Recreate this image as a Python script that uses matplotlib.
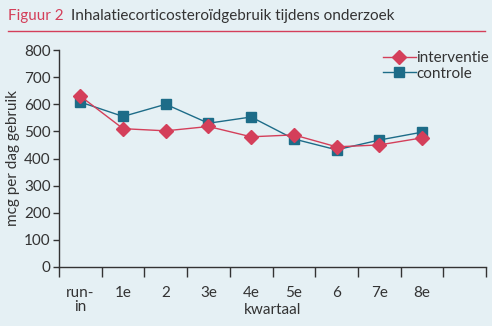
import matplotlib.pyplot as plt
import numpy as np

categories = ["run-\nin", "1e", "2", "3e", "4e", "5e", "6", "7e", "8e"]
interventie = [630, 510, 502, 518, 480, 487, 443, 450, 476]
controle = [608, 555, 600, 530, 553, 472, 432, 468, 497]

BG = "#e5f0f4"
RED = "#d43f5a"
BLUE = "#1d6c88"
TXT = "#333333"

plt.rcParams["font.family"] = ["Lato", "DejaVu Sans"]

fig = plt.figure(figsize=(4.92, 3.26), dpi=100, facecolor=BG)
ax = fig.add_axes([59 / 492, 1 - 267 / 326, (486 - 59) / 492, (267 - 50) / 326])
ax.set_facecolor(BG)

x = np.arange(len(categories)) + 0.5
ax.plot(x, controle, color=BLUE, lw=1, marker="s", ms=7, label="controle", zorder=3)
ax.plot(x, interventie, color=RED, lw=1, marker="D", ms=7.5, label="interventie", zorder=4)

ax.set_xlim(0, 10)
ax.set_ylim(0, 800)
ax.set_yticks(range(0, 801, 100))
ax.tick_params(axis="y", labelsize=11, colors=TXT, length=4, width=1, pad=2)
ax.set_xticks(range(0, 11))
ax.set_xticks(x, minor=True)
ax.set_xticklabels([])
ax.set_xticklabels(categories, minor=True)
ax.tick_params(axis="x", which="major", length=7, width=1, colors=TXT, direction="out")
ax.tick_params(axis="x", which="minor", length=0, labelsize=11, colors=TXT, pad=14)
for lbl in ax.get_xticklabels(minor=True):
    lbl.set_verticalalignment("top")
    lbl.set_linespacing(0.95)

for s in ["top", "right"]:
    ax.spines[s].set_visible(False)
for s in ["left", "bottom"]:
    ax.spines[s].set_color(TXT)
    ax.spines[s].set_linewidth(1)

ax.set_xlabel("kwartaal", fontsize=11, color=TXT)
ax.xaxis.set_label_coords(0.5, -0.165)
ax.set_ylabel("mcg per dag gebruik", fontsize=11, color=TXT, labelpad=3)

h, l = ax.get_legend_handles_labels()
leg = ax.legend(h[::-1], l[::-1], loc="upper right", bbox_to_anchor=(1.025, 1.03),
                frameon=False, fontsize=11, handlelength=2.1, handletextpad=0.05,
                labelspacing=0.1, borderpad=0)
for t in leg.get_texts():
    t.set_color(TXT)

fig.text(8 / 492, 1 - 16 / 326, "Figuur 2", color=RED, fontsize=11, va="center")
fig.text(71 / 492, 1 - 16 / 326, "Inhalatiecorticosteroïdgebruik tijdens onderzoek",
         color=TXT, fontsize=11, va="center")
fig.add_artist(plt.Line2D([8 / 492, 485 / 492], [1 - 31 / 326, 1 - 31 / 326],
                          color=RED, lw=1))

fig.savefig("out.png", dpi=100, facecolor=BG)
